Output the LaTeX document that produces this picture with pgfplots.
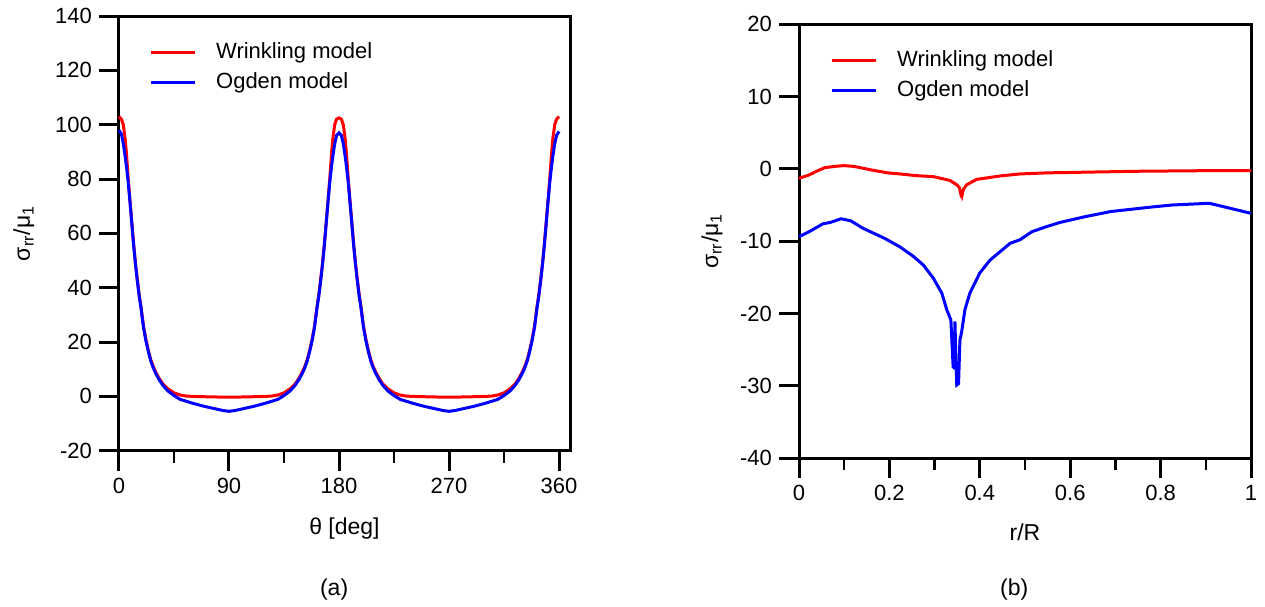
\documentclass[border=0pt]{standalone}
\usepackage{fontspec}
\setmainfont{Liberation Sans}
\usepackage{pgfplots}
\pgfplotsset{compat=1.18}
\definecolor{wred}{RGB}{255,0,0}
\definecolor{oblue}{RGB}{0,0,255}
\pgfplotsset{
  common/.style={
    scale only axis,
    tick align=outside, tick pos=left,
    major tick length=10pt, minor tick length=6pt,
    major tick style={line width=1.5pt, black},
    minor tick style={line width=1.2pt, black},
    axis line style={line width=1.5pt, black},
    clip=false,
    /pgf/number format/assume math mode=true,
    tick label style={font=\fontsize{11}{13}\selectfont},
    label style={font=\fontsize{11.5}{14}\selectfont},
    legend cell align=left,
    legend image code/.code={\draw[##1, line width=1.5pt] (0pt,0pt) -- (22pt,0pt);},
    legend style={anchor=north west, draw=none, fill=none, inner sep=0pt,
      row sep=4.5pt,
      nodes={inner sep=0pt, text height=8pt, text depth=2.5pt, font=\fontsize{11}{13}\selectfont},
      /tikz/every odd column/.append style={column sep=10pt}},
  }
}
\begin{document}
\begin{tikzpicture}
\useasboundingbox (0,0) rectangle (632.5pt,303pt);
\begin{axis}[common,
  at={(59.5pt,77.65pt)}, anchor=south west,
  width=225.5pt, height=217.35pt,
  xmin=0, xmax=369, ymin=-20, ymax=140,
  xtick={0,90,180,270,360}, xticklabels={0,90,180,270,360},
  minor xtick={45,135,225,315},
  ytick={-20,0,20,40,60,80,100,120,140},
  yticklabels={-20,0,20,40,60,80,100,120,140},
  xlabel={θ [deg]},
  ylabel={σ\textsubscript{rr}/μ\textsubscript{1}},
  xlabel style={at={(axis description cs:0.5,-0.18)}, anchor=center},
  ylabel style={at={(axis description cs:-0.211,0.5)}, anchor=center},
  legend style={at={(axis description cs:0.066,0.941)}},
]
\addplot[wred, line width=1.5pt] coordinates {
(0,103) (2,102) (3.5,100) (5,95) (6,90) (7.5,80.5) (9,72) (10.5,64) (12,56) (13.5,49)
(15,43) (16.5,37.5) (18,33) (20,26) (22,21) (24,17) (26,13.5) (28,11) (30,9) (33,6.5)
(36,4.5) (40,2.8) (45,1.3) (50,0.5) (55,0.1) (60,0) (75,-0.2) (90,-0.3)
(105,-0.2) (120,0) (125,0.1) (130,0.5) (135,1.3) (140,2.8) (144,4.5) (147,6.5) (150,9)
(152,11) (154,13.5) (156,17) (158,21) (160,26) (162,33) (163.5,37.5) (165,43) (166.5,49)
(168,56) (169.5,64) (171,72) (172.5,80.5) (174,90) (175,95) (176.5,100) (178,102) (180,102.5)
(182,102) (183.5,100) (185,95) (186,90) (187.5,80.5) (189,72) (190.5,64) (192,56) (193.5,49)
(195,43) (196.5,37.5) (198,33) (200,26) (202,21) (204,17) (206,13.5) (208,11) (210,9) (213,6.5)
(216,4.5) (220,2.8) (225,1.3) (230,0.5) (235,0.1) (240,0) (255,-0.2) (270,-0.3)
(285,-0.2) (300,0) (305,0.1) (310,0.5) (315,1.3) (320,2.8) (324,4.5) (327,6.5) (330,9)
(332,11) (334,13.5) (336,17) (338,21) (340,26) (342,33) (343.5,37.5) (345,43) (346.5,49)
(348,56) (349.5,64) (351,72) (352.5,80.5) (354,90) (355,95) (356.5,100) (358,102) (360,103)
};
\addlegendentry{Wrinkling model}
\addplot[oblue, line width=1.5pt] coordinates {
(0,98) (2,96.5) (3.5,93) (5,88.5) (6,85) (7.5,79) (9,71.5) (10.5,63.5) (12,55.5) (13.5,48.5)
(15,42.5) (16.5,37) (18,32.5) (20,25.5) (22,20.5) (24,16.5) (26,13) (28,10.5) (30,8.5) (33,6)
(36,4) (40,2) (45,0.3) (50,-1.1) (55,-1.8) (60,-2.5) (65,-3.1) (70,-3.7) (75,-4.2) (80,-4.7)
(85,-5.2) (90,-5.5)
(95,-5.2) (100,-4.7) (105,-4.2) (110,-3.7) (115,-3.1) (120,-2.5) (125,-1.8) (130,-1.1) (135,0.3)
(140,2) (144,4) (147,6) (150,8.5) (152,10.5) (154,13) (156,16.5) (158,20.5) (160,25.5) (162,32.5)
(163.5,37) (165,42.5) (166.5,48.5) (168,55.5) (169.5,63.5) (171,71.5) (172.5,79) (174,85) (175,88.5)
(176.5,93) (178,96) (180,97)
(182,96) (183.5,93) (185,88.5) (186,85) (187.5,79) (189,71.5) (190.5,63.5) (192,55.5) (193.5,48.5)
(195,42.5) (196.5,37) (198,32.5) (200,25.5) (202,20.5) (204,16.5) (206,13) (208,10.5) (210,8.5)
(213,6) (216,4) (220,2) (225,0.3) (230,-1.1) (235,-1.8) (240,-2.5) (245,-3.1) (250,-3.7) (255,-4.2)
(260,-4.7) (265,-5.2) (270,-5.5)
(275,-5.2) (280,-4.7) (285,-4.2) (290,-3.7) (295,-3.1) (300,-2.5) (305,-1.8) (310,-1.1) (315,0.3)
(320,2) (324,4) (327,6) (330,8.5) (332,10.5) (334,13) (336,16.5) (338,20.5) (340,25.5) (342,32.5)
(343.5,37) (345,42.5) (346.5,48.5) (348,55.5) (349.5,63.5) (351,71.5) (352.5,79) (354,85) (355,88.5)
(356.5,93) (358,96) (360,97.5)
};
\addlegendentry{Ogden model}
\node[font=\fontsize{11.5}{14}\selectfont] at (axis description cs:0.477,-0.3205) {(a)};
\end{axis}
\begin{axis}[common,
  at={(399.5pt,74pt)}, anchor=south west,
  width=226pt, height=216.85pt,
  xmin=0, xmax=1, ymin=-40, ymax=20,
  xtick={0,0.2,0.4,0.6,0.8,1}, xticklabels={0,0.2,0.4,0.6,0.8,1},
  minor xtick={0.1,0.3,0.5,0.7,0.9},
  ytick={-40,-30,-20,-10,0,10,20},
  yticklabels={-40,-30,-20,-10,0,10,20},
  xlabel={r/R},
  ylabel={σ\textsubscript{rr}/μ\textsubscript{1}},
  xlabel style={at={(axis description cs:0.5,-0.171)}, anchor=center},
  ylabel style={at={(axis description cs:-0.1925,0.5)}, anchor=center},
  legend style={at={(axis description cs:0.068,0.941)}},
]
\addplot[wred, line width=1.5pt] coordinates {
(0,-1.3) (0.02,-0.9) (0.04,-0.3) (0.057,0.17) (0.08,0.35) (0.1,0.45) (0.12,0.35) (0.133,0.2)
(0.16,-0.15) (0.196,-0.55) (0.2235,-0.7) (0.26,-0.94) (0.297,-1.07) (0.334,-1.6) (0.349,-2.2)
(0.355,-2.6) (0.358,-3.5) (0.360,-3.3) (0.361,-3.6) (0.364,-2.8) (0.371,-2.2) (0.393,-1.45)
(0.445,-0.98) (0.489,-0.7) (0.55,-0.55) (0.658,-0.43) (0.75,-0.33) (0.897,-0.25) (1.0,-0.25)
};
\addlegendentry{Wrinkling model}
\addplot[oblue, line width=1.5pt] coordinates {
(0,-9.4) (0.025,-8.6) (0.053,-7.6) (0.07,-7.4) (0.093,-6.9) (0.115,-7.2) (0.141,-8.2) (0.165,-8.9)
(0.189,-9.6) (0.2235,-10.8) (0.253,-12.1) (0.275,-13.3) (0.297,-15.1) (0.316,-17.2) (0.327,-19.5)
(0.336,-20.9) (0.341,-27.4) (0.343,-27.5) (0.345,-21.1) (0.347,-26) (0.349,-29.9) (0.353,-29.7)
(0.356,-23.7) (0.36,-22.5) (0.367,-19.5) (0.378,-17.2) (0.40,-14.4) (0.423,-12.6) (0.445,-11.45)
(0.467,-10.3) (0.489,-9.8) (0.515,-8.7) (0.547,-8.0) (0.578,-7.4) (0.634,-6.6) (0.690,-5.9)
(0.777,-5.3) (0.825,-5.0) (0.908,-4.76) (1.0,-6.15)
};
\addlegendentry{Ogden model}
\node[font=\fontsize{11.5}{14}\selectfont] at (axis description cs:0.476,-0.304) {(b)};
\end{axis}
\end{tikzpicture}
\end{document}
